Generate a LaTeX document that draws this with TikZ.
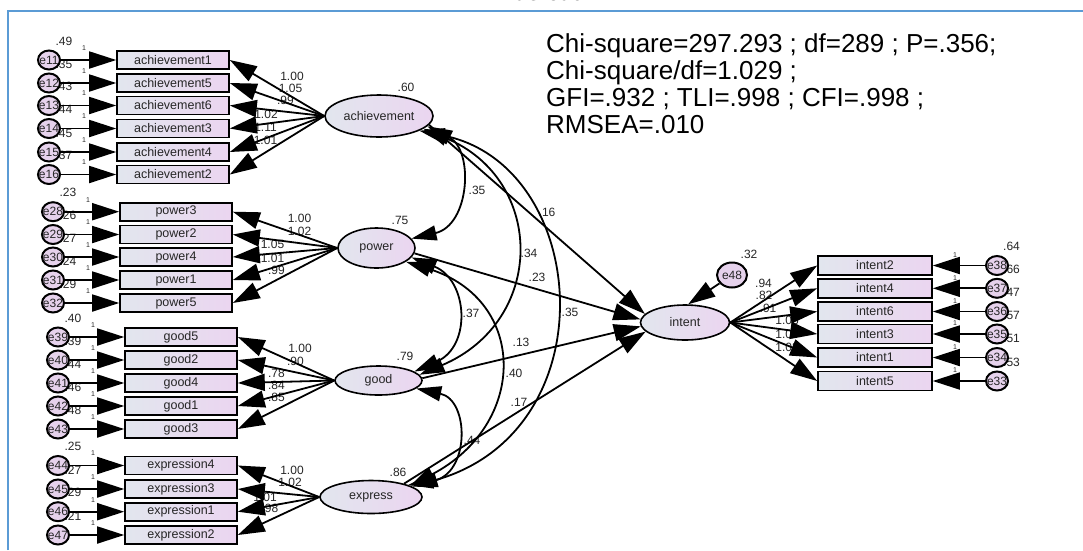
\documentclass[tikz,border=0pt]{standalone}
\usepackage{fontspec}
\setmainfont{Liberation Sans}
\newfontfamily\capfont{Liberation Serif}
\usetikzlibrary{arrows.meta,shapes.geometric}
\definecolor{boxL}{HTML}{E2E6EE}
\definecolor{boxR}{HTML}{EBD5F0}
\definecolor{errC}{HTML}{E6D2EC}
\definecolor{frameC}{HTML}{5B9BD5}
\definecolor{txtC}{HTML}{262626}
\pgfdeclarelayer{background}
\pgfsetlayers{background,main}
\begin{document}
\begin{tikzpicture}[x=1pt,y=-1pt,
  obs/.style={draw, line width=1.6pt, minimum width=112pt, minimum height=18pt, inner sep=0pt,
    left color=boxL, right color=boxR, text=txtC, font=\fontsize{12.5}{14}\selectfont},
  lat/.style={ellipse, draw, line width=1.6pt, inner sep=0pt, left color=boxL, right color=boxR,
    text=txtC, font=\fontsize{12.5}{14}\selectfont},
  err/.style={ellipse, draw, line width=2pt, minimum width=22pt, minimum height=19pt, inner sep=0pt,
    fill=errC, text=txtC, font=\fontsize{12}{12}\selectfont},
  arr/.style={line width=1.8pt, -{Triangle[length=27pt,width=17pt]}},
  darr/.style={line width=1.8pt, {Triangle[length=25pt,width=15pt]}-{Triangle[length=25pt,width=15pt]}},
  lbl/.style={inner sep=0pt, text=txtC, font=\fontsize{12}{14}\selectfont},
  one/.style={inner sep=0pt, text=txtC, font=\fontsize{7}{8}\selectfont},
  fit/.style={inner sep=0pt, anchor=base west, text=black, font=\fontsize{26}{27}\selectfont},
]
\useasboundingbox (0,0) rectangle (1083,550);
\begin{pgfonlayer}{background}
\fill[white] (0,0) rectangle (1083,550);
\end{pgfonlayer}
\node[inner sep=0pt, anchor=base, font=\capfont\fontsize{26}{26}\selectfont] (cap) at (550,0.5) {acroad};
\draw[frameC, line width=2pt] (8,550) -- (8,11) -- (1083,11);

% fit statistics
\node[fit] (f1) at (546,52) {Chi-square=297.293 ; df=289 ; P=.356;};
\node[fit] (f2) at (546,79) {Chi-square/df=1.029 ;};
\node[fit] (f3) at (546,106) {GFI=.932 ; TLI=.998 ; CFI=.998 ;};
\node[fit] (f4) at (546,133) {RMSEA=.010};

% latent variables
\node[lat, minimum width=108pt, minimum height=42pt] (ach) at (379,116) {achievement};
\node[lat, minimum width=77pt, minimum height=40pt] (pow) at (376.5,248) {power};
\node[lat, minimum width=87pt, minimum height=29pt] (good) at (378.5,380.5) {good};
\node[lat, minimum width=102pt, minimum height=33pt] (expr) at (371,497) {express};
\node[lat, minimum width=89pt, minimum height=35pt] (int) at (685,322.5) {intent};
\node[err, minimum width=30pt, minimum height=25pt] (e48) at (732,275) {\makebox[0pt]{e48}};

\begin{pgfonlayer}{background}
\node[lbl] (v60) at (406,87) {.60};
\node[lbl] (v75) at (400,220) {.75};
\node[lbl] (v79) at (405,356) {.79};
\node[lbl] (v86) at (398,472) {.86};
\node[lbl] (v32) at (749,254) {.32};
\node[one] (o48) at (704,288) {1};
\node[lbl] (s16) at (547,212) {.16};
\node[lbl] (s23) at (537,277) {.23};
\node[lbl] (s13) at (521,342) {.13};
\node[lbl] (s17) at (519,402) {.17};
\node[lbl] (c35a) at (477,190) {.35};
\node[lbl] (c34) at (529,253) {.34};
\node[lbl] (c35b) at (570,312) {.35};
\node[lbl] (c37) at (471,313) {.37};
\node[lbl] (c40) at (514,373) {.40};
\node[lbl] (c44) at (472,440) {.44};
\end{pgfonlayer}

% left-hand measurement blocks
\foreach \n/\t/\y/\e/\v/\lx/\ly/\l/\bx/\ex/\lv in {
  a1/achievement1/60/e11/.49/292/76/1.00/173/49/ach,
  a2/achievement5/83/e12/.35/290.5/88/1.05/173/49/ach,
  a3/achievement6/105.5/e13/.43/285.5/100/.99/173/49/ach,
  a4/achievement3/128.5/e14/.44/266/114/1.02/173/49/ach,
  a5/achievement4/152/e15/.45/265.5/127/1.11/173/49/ach,
  a6/achievement2/174.5/e16/.37/265.5/140/1.01/173/49/ach,
  p1/power3/211.7/e28/.23/299.5/218/1.00/176/53/pow,
  p2/power2/234.5/e29/.26/299.5/231/1.02/176/53/pow,
  p3/power4/257/e30/.27/272.5/244/1.05/176/53/pow,
  p4/power1/280/e31/.24/272.5/258/1.01/176/53/pow,
  p5/power5/303/e32/.29/276.5/270/.99/176/53/pow,
  g1/good5/337/e39/.40/300/348/1.00/181/58/good,
  g2/good2/360/e40/.39/295.5/361/.90/181/58/good,
  g3/good4/383/e41/.44/276.5/373/.78/181/58/good,
  g4/good1/406/e42/.46/276.5/385/.84/181/58/good,
  g5/good3/429/e43/.48/276.5/397/.85/181/58/good,
  x1/expression4/465.5/e44/.25/292/470/1.00/181/58/expr,
  x2/expression3/489/e45/.27/290/482/1.02/181/58/expr,
  x3/expression1/511.7/e46/.29/265/497/1.01/181/58/expr,
  x4/expression2/535/e47/.21/270/508/.98/181/58/expr}{
  \node[obs] (\n) at (\bx,\y) {\t};
  \node[err] (\n e) at (\ex,\y) {\makebox[0pt]{\e}};
  \begin{pgfonlayer}{background}
    \node[lbl] (\n v) at (\ex+15,\y-19) {\v};
    \node[one] (\n o) at (\ex+35,\y-12) {1};
    \node[lbl] (\n l) at (\lx,\ly) {\l};
  \end{pgfonlayer}
  \draw[arr] (\n e) -- (\n);
  \draw[arr] (\lv.west) -- (\n.east);
}

% intent measurement block
\foreach \n/\t/\y/\e/\v/\lx/\ly/\l in {
  i1/intent2/265.5/e38/.64/763.5/283/.94,
  i2/intent4/288.3/e37/.66/764/295/.82,
  i3/intent6/311.5/e36/.47/768/308/.91,
  i4/intent3/334/e35/.57/787/320/1.03,
  i5/intent1/357.5/e34/.51/787/334/1.07,
  i6/intent5/381/e33/.53/787/347/1.02}{
  \node[obs, minimum width=114pt, minimum height=19pt] (\n) at (875,\y) {\t};
  \node[err] (\n e) at (997,\y) {\makebox[0pt]{\e}};
  \begin{pgfonlayer}{background}
    \node[lbl] (\n v) at (1011.5,\y-19) {\v};
    \node[one] (\n o) at (955,\y-10.5) {1};
    \node[lbl] (\n l) at (\lx,\ly) {\l};
  \end{pgfonlayer}
  \draw[arr] (\n e) -- (\n);
  \draw[arr] (int.east) -- (\n.west);
}

% structural paths
\draw[arr] (ach.-10) -- (int.168);
\draw[arr] (pow.-8) -- (int.176);
\draw[arr] (good.3) -- (int.185);
\draw[arr] (expr.22) -- (int.193);
\draw[arr] (e48) -- (int.80);

% covariances
\draw[darr] (ach.-12) .. controls (474,150) and (470,225) .. (pow.15);
\draw[darr] (ach.-16) .. controls (546,180) and (546,321) .. (good.8);
\draw[darr] (ach.-20) .. controls (590,165) and (610,430) .. (expr.14);
\draw[darr] (pow.-15) .. controls (468,280) and (472,346) .. (good.14);
\draw[darr] (pow.-25) .. controls (528,300) and (528,424) .. (expr.16);
\draw[darr] (good.-12) .. controls (470,400) and (470,475) .. (expr.18);
\end{tikzpicture}
\end{document}
